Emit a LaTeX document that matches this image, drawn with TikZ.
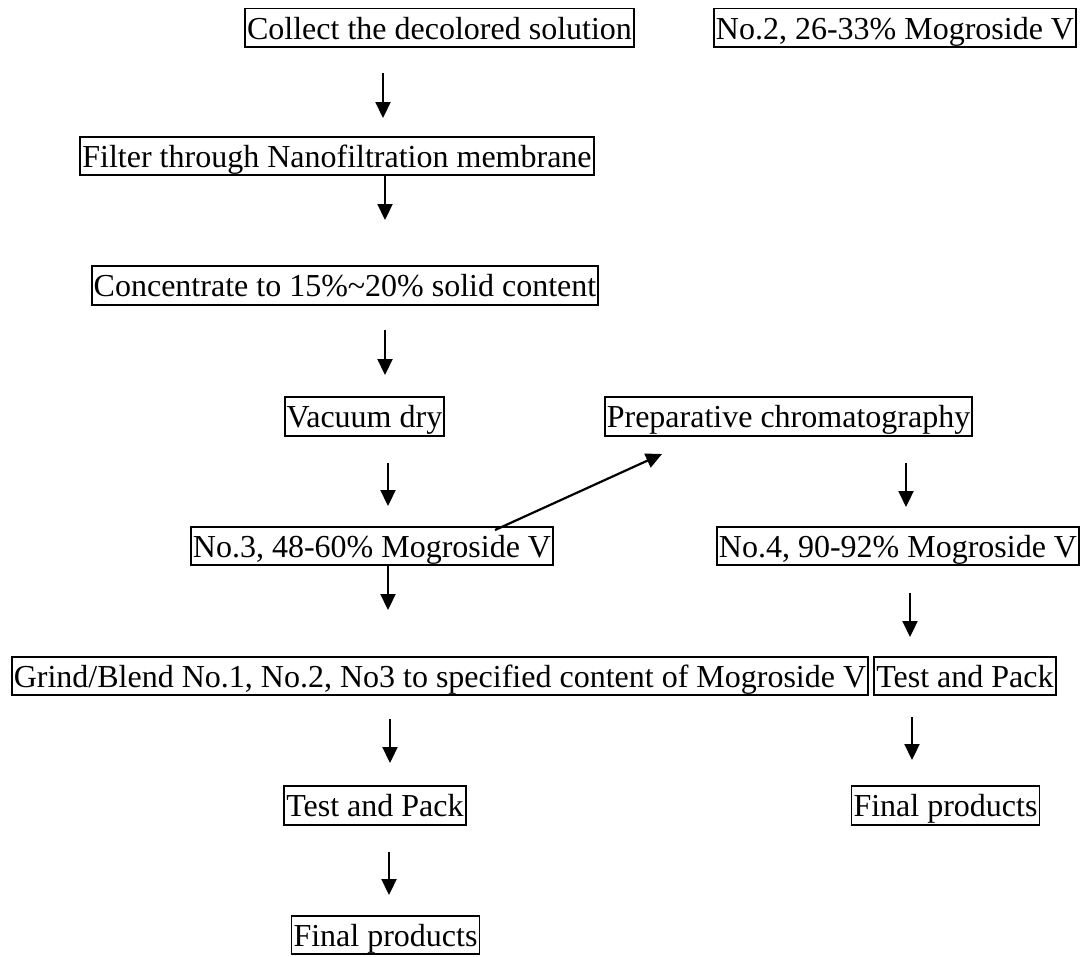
\documentclass[tikz,border=0pt]{standalone}
\usepackage{fontspec}
\setmainfont{Liberation Serif}
\usetikzlibrary{arrows.meta}
\begin{document}
\begin{tikzpicture}[
  x = 1pt, y = -1pt,
  box/.style = {draw, line width = 1.8, inner xsep = 2, inner ysep = 0,
    text height = 30.5pt, text depth = 8pt, font = \fontsize{32}{38}\selectfont},
  flow/.style = {-{Triangle[width = 15pt, length = 16pt]}, line width = 2.2}
]
\useasboundingbox (0, 0) rectangle (1089, 956);
% left column
\node[box] (collect) at (439.5, 27.8) {Collect the decolored solution};
\node[box] (filter) at (337, 156) {Filter through Nanofiltration membrane};
\node[box] (concentrate) at (345, 285.5) {Concentrate to 15\%\textasciitilde20\%\ solid content};
\node[box] (vacuum) at (364.5, 416.5) {Vacuum dry};
\node[box] (nothree) at (372, 546) {No.3, 48-60\% Mogroside V};
\node[box] (grind) at (440, 676) {Grind/Blend No.1, No.2, No3 to specified content of Mogroside V};
\node[box] (testleft) at (375, 805.5) {Test and Pack};
\node[box] (finalleft) at (385.5, 935) {Final products};
% right column
\node[box] (notwo) at (895, 27.8) {No.2, 26-33\% Mogroside V};
\node[box] (prep) at (788.5, 416.5) {Preparative chromatography};
\node[box] (nofour) at (898, 546) {No.4, 90-92\% Mogroside V};
\node[box] (testright) at (965, 676) {Test and Pack};
\node[box] (finalright) at (945.5, 805.5) {Final products};
% free standing arrows
\foreach \n/\x/\ya/\yb in {a/383/73/118, b/385/176/220, c/385/330/375, d/388/463/506,
    e/388/565/610, f/390/719/763, g/389/852/895, h/906/463/507, i/910/593/637, k/912/717/760}{
  \coordinate (s\n) at (\x, \ya);
  \coordinate (e\n) at (\x, \yb);
  \draw[flow] (s\n) -- (e\n);
}
\coordinate (sdiag) at (495, 530);
\coordinate (ediag) at (662, 454);
\draw[flow] (sdiag) -- (ediag);
\end{tikzpicture}
\end{document}
